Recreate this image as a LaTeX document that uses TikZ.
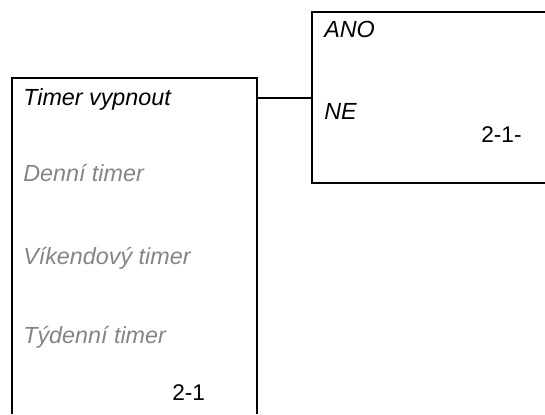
\documentclass[tikz,border=0pt]{standalone}
\usepackage{fontspec}
\setmainfont{Liberation Sans}
\usetikzlibrary{positioning}

\begin{document}
\begin{tikzpicture}[
    x=0.75pt, y=-0.75pt,
    font=\fontsize{17}{20}\selectfont,
    frame/.style={line width=1.5pt},
    panel/.style={inner sep=0pt, outer sep=0pt, draw=none},
    item/.style={anchor=base west, inner sep=0pt, font=\fontsize{17.5}{21}\selectfont\itshape},
    dim/.style={item, text=black!48},
    code/.style={anchor=base west, inner sep=0pt}
]
\useasboundingbox (0,0) rectangle (545,414);

% Panels
\node[panel, minimum width=245*0.75pt, minimum height=336*0.75pt] (menu) at (134.5,246) {};
\node[panel, minimum width=233*0.75pt, minimum height=171*0.75pt] (opts) at (428.5,97.5) {};

% Frames (open sides)
\draw[frame] (menu.south west) -- (menu.north west) -- (menu.north east) -- (menu.south east);
\draw[frame] (opts.north east) -- (opts.north west) -- (opts.south west) -- (opts.south east);

% Link
\coordinate (tap) at (257,98);
\draw[frame] (tap) -- (tap -| opts.west);

% Menu items
\node[item] (off) at (23,105) {Timer vypnout};
\node[dim] (daily) at (23,181) {Denní timer};
\node[dim] (weekend) at (23,264) {Víkendový timer};
\node[dim] (weekly) at (23,343) {Týdenní timer};
\node[code] (menuno) at (172,400) {2-1};

% Options
\node[item] (yes) at (324,37.5) {ANO};
\node[item] (no) at (324,119) {NE};
\node[code] (optsno) at (481,142) {2-1-};

\end{tikzpicture}
\end{document}
